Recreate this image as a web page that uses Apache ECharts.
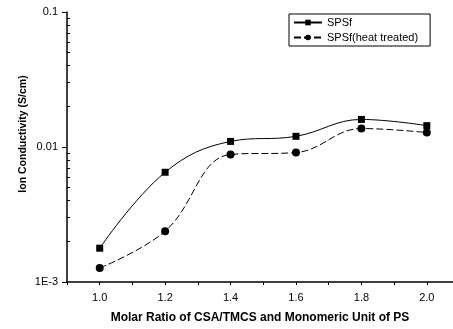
<!DOCTYPE html>
<html>
<head>
<meta charset="utf-8">
<script src="https://cdn.jsdelivr.net/npm/echarts@6/dist/echarts.min.js"></script>
<style>
	html, body { margin: 0; padding: 0; background: #fff; }
	#chart { width: 453px; height: 329px; }
</style>
</head>
<body>
<div id="chart"></div>
<script>
// molar ratio values on the x axis
var ratios = [1.0, 1.2, 1.4, 1.6, 1.8, 2.0];
// ion conductivity (S/cm)
var spsf = [0.00178, 0.0065, 0.0110, 0.0120, 0.0160, 0.0144];
var spsfHeat = [0.00127, 0.00238, 0.0088, 0.0091, 0.0137, 0.0128];

var xLabelValues = [1.0, 1.2, 1.4, 1.6, 1.8, 2.0];
var xTickValues = [0.9, 1.0, 1.1, 1.2, 1.3, 1.4, 1.5, 1.6, 1.7, 1.8, 1.9, 2.0];
var yLabelValues = [0.001, 0.01, 0.1];
var yLabelText = { '0.001': '1E-3', '0.01': '0.01', '0.1': '0.1' };
var yMinorTicks = [0.002, 0.003, 0.004, 0.005, 0.006, 0.007, 0.008, 0.009,
	0.02, 0.03, 0.04, 0.05, 0.06, 0.07, 0.08, 0.09];

var font = 'Liberation Sans, Arial, sans-serif';

function pairs(xs, ys) {
	return xs.map(function(x, i) { return [x, ys[i]]; });
}

var chart = echarts.init(document.getElementById('chart'));
chart.setOption({
	animation: false,
	textStyle: { fontFamily: font, color: '#000' },
	// the x axis runs off the right edge of the picture (to about 2.08)
	grid: { left: 67, right: 0, top: 12, bottom: 46 },
	legend: {
		top: 14, left: 289,
		orient: 'vertical',
		itemWidth: 28, itemHeight: 7, itemGap: 4,
		padding: [3, 12, 3, 4],
		borderColor: '#000', borderWidth: 1, borderRadius: 0,
		textStyle: { fontSize: 11, color: '#000', fontFamily: font },
		data: ['SPSf', 'SPSf(heat treated)']
	},
	xAxis: {
		type: 'value', min: 0.9, max: 2.08,
		name: 'Molar Ratio of CSA/TMCS and Monomeric Unit of PS',
		nameLocation: 'middle', nameGap: 30,
		nameTextStyle: { fontSize: 12, fontWeight: 'bold', color: '#000' },
		axisLine: { lineStyle: { color: '#000', width: 1.5 } },
		axisTick: { length: 3, customValues: xTickValues, lineStyle: { color: '#000' } },
		axisLabel: {
			customValues: xLabelValues, fontSize: 11, color: '#000', margin: 10,
			formatter: function(v) { return v.toFixed(1); }
		},
		splitLine: { show: false }
	},
	yAxis: [{
		type: 'log', min: 0.001, max: 0.1, logBase: 10,
		name: 'Ion Conductivity (S/cm)',
		nameLocation: 'middle', nameGap: 38, nameRotate: 90, nameMoveOverlap: false,
		nameTextStyle: { fontSize: 10.5, fontWeight: 'bold', color: '#000', padding: [0, 0, 0, 26] },
		axisLine: { show: true, lineStyle: { color: '#000', width: 1.5 } },
		axisTick: { length: 5, customValues: yLabelValues, lineStyle: { color: '#000' } },
		axisLabel: {
			customValues: yLabelValues, fontSize: 11, color: '#000', margin: 9,
			formatter: function(v) { return yLabelText[String(+v.toPrecision(3))] || v; }
		},
		splitLine: { show: false }
	}, {
		// only for the log minor ticks, drawn on the inner side
		type: 'log', min: 0.001, max: 0.1, logBase: 10,
		position: 'left',
		axisLine: { show: false },
		axisTick: { inside: true, length: 3, customValues: yMinorTicks, lineStyle: { color: '#000' } },
		axisLabel: { show: false },
		splitLine: { show: false }
	}],
	series: [{
		name: 'SPSf', type: 'line', smooth: 0.4,
		data: pairs(ratios, spsf),
		symbol: 'rect', symbolSize: 7,
		itemStyle: { color: '#000' },
		lineStyle: { color: '#000', width: 1 }
	}, {
		name: 'SPSf(heat treated)', type: 'line', smooth: 0.4,
		data: pairs(ratios, spsfHeat),
		symbol: 'circle', symbolSize: 8,
		itemStyle: { color: '#000' },
		lineStyle: { color: '#000', width: 1, type: [7, 3] }
	}]
});
</script>
</body>
</html>
